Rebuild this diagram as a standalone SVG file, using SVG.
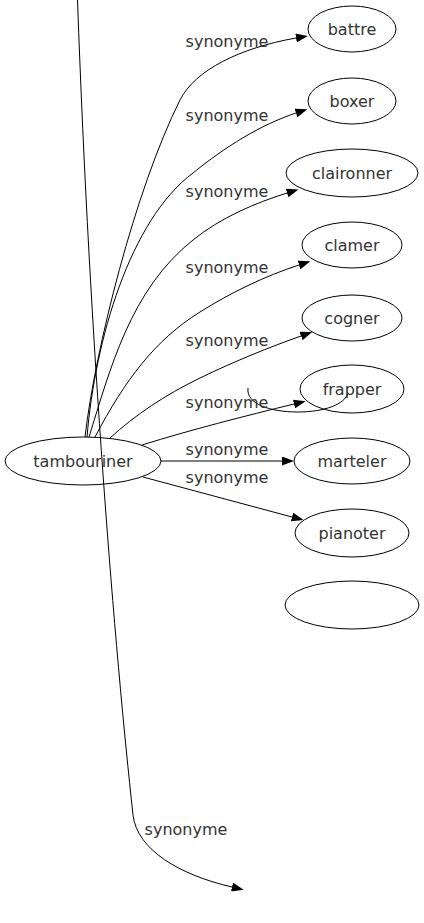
<svg xmlns="http://www.w3.org/2000/svg" width="424" height="923" viewBox="0 0 424 923">
<style>
.node ellipse{fill:none;stroke:#000;stroke-width:1}
.node text{font-family:"DejaVu Sans",sans-serif;font-size:16px;fill:#333;text-anchor:middle}
.edge{fill:none;stroke:#000;stroke-width:1}
.arr{marker-end:url(#ah)}
.lbl{font-family:"DejaVu Sans",sans-serif;font-size:16px;fill:#333;text-anchor:middle}
</style>
<defs>
<marker id="ah" viewBox="0 0 12 9" refX="0" refY="4.5" markerWidth="12" markerHeight="9" markerUnits="userSpaceOnUse" orient="auto">
<path d="M0,0 L12,4.5 L0,9 z" fill="#000"/>
</marker>
</defs>
<rect width="424" height="923" fill="#fff"/>
<g id="connectors">
<path class="edge arr" d="M77.5,0 C90,350 115,650 133,815 C137,850 180,875 232,887"/>
<path class="edge arr" d="M85,437 C95,350 135,190 180,100 C195,70 240,48 296,38"/>
<path class="edge arr" d="M87,437 C95,340 130,220 193,173 C225,147 260,125 296,113"/>
<path class="edge arr" d="M89,437 C110,370 130,290 193,240 C220,218 255,203 287,193"/>
<path class="edge arr" d="M95,437 C125,380 155,340 200,312 C230,293 265,276 299,265"/>
<path class="edge arr" d="M110,438 C135,415 165,395 200,378 C235,361 270,347 301,336"/>
<path class="edge arr" d="M142,445 C190,430 245,416 294,404"/>
<path class="edge" d="M248,388 C246,404 270,412 298,412 C325,412 345,404 348,393"/>
<path class="edge arr" d="M161,461 L282,461"/>
<path class="edge arr" d="M143,477 L292,517"/>
<text class="lbl" x="227" y="47">synonyme</text>
<text class="lbl" x="227" y="121">synonyme</text>
<text class="lbl" x="227" y="197">synonyme</text>
<text class="lbl" x="227" y="273">synonyme</text>
<text class="lbl" x="227" y="346">synonyme</text>
<text class="lbl" x="227" y="408">synonyme</text>
<text class="lbl" x="227" y="455">synonyme</text>
<text class="lbl" x="227" y="483">synonyme</text>
<text class="lbl" x="186" y="835">synonyme</text>
</g>
<g id="tambouriner" class="node"><ellipse cx="83" cy="461" rx="78" ry="24"/><text x="83" y="467">tambouriner</text></g>
<g id="battre" class="node"><ellipse cx="352" cy="29" rx="44" ry="23"/><text x="352" y="35">battre</text></g>
<g id="boxer" class="node"><ellipse cx="352" cy="101" rx="44" ry="23"/><text x="352" y="107">boxer</text></g>
<g id="claironner" class="node"><ellipse cx="352" cy="173" rx="66" ry="24"/><text x="352" y="179">claironner</text></g>
<g id="clamer" class="node"><ellipse cx="352" cy="245" rx="50" ry="23"/><text x="352" y="251">clamer</text></g>
<g id="cogner" class="node"><ellipse cx="352" cy="318" rx="50" ry="23"/><text x="352" y="324">cogner</text></g>
<g id="frapper" class="node"><ellipse cx="352" cy="389" rx="52" ry="24"/><text x="352" y="395">frapper</text></g>
<g id="marteler" class="node"><ellipse cx="352" cy="461" rx="58" ry="23"/><text x="352" y="467">marteler</text></g>
<g id="pianoter" class="node"><ellipse cx="352" cy="533" rx="57" ry="24"/><text x="352" y="539">pianoter</text></g>
<g id="empty" class="node"><ellipse cx="352" cy="605" rx="67" ry="24"/></g>
</svg>
